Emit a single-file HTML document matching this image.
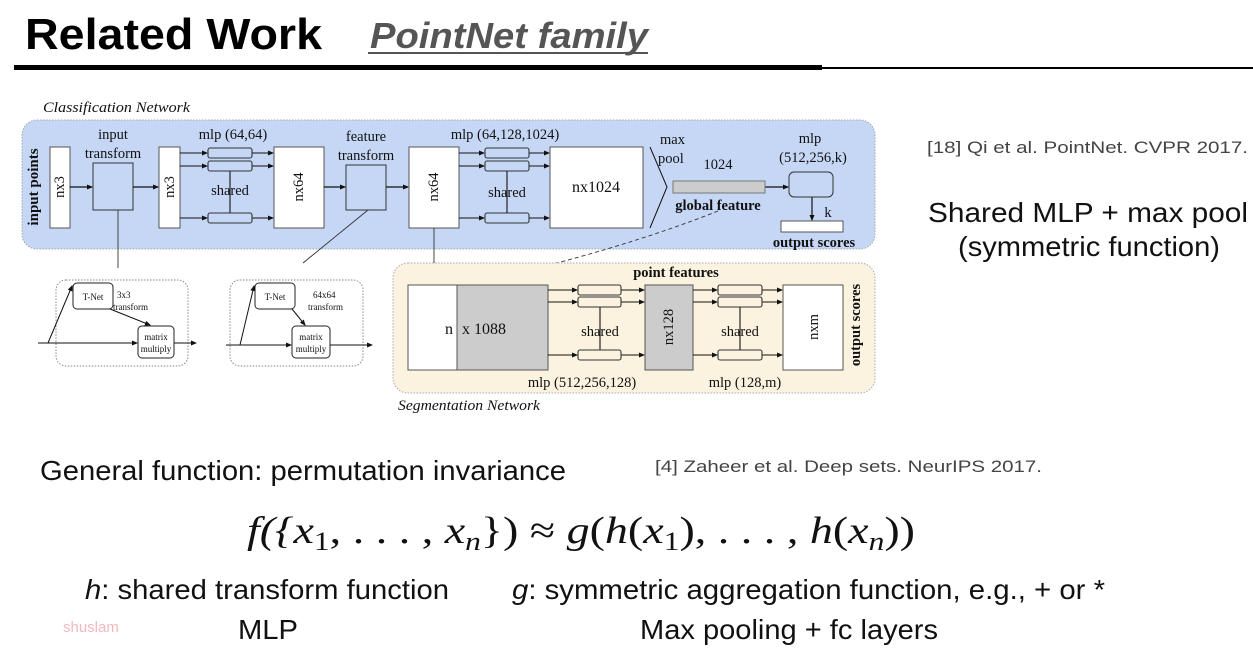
<!DOCTYPE html>
<html><head><meta charset="utf-8"><style>
html,body{margin:0;padding:0;background:#fff;}
svg{display:block;}
.s{font-family:"Liberation Serif",serif;fill:#111;}
.a{font-family:"Liberation Sans",sans-serif;}
</style></head><body>
<svg width="1253" height="670" viewBox="0 0 1253 670" xmlns="http://www.w3.org/2000/svg">
<defs>
<marker id="ar" markerWidth="6" markerHeight="6" refX="5" refY="3" orient="auto" markerUnits="userSpaceOnUse"><path d="M0,0.5 L6,3 L0,5.5 z" fill="#111"/></marker>
</defs>
<!-- title -->
<text x="25" y="49" class="a" font-size="44" font-weight="bold" fill="#000" textLength="297" lengthAdjust="spacingAndGlyphs">Related Work</text>
<text x="370" y="48" class="a" font-size="36" font-weight="bold" font-style="italic" fill="#555" textLength="278" lengthAdjust="spacingAndGlyphs">PointNet family</text>
<line x1="368" y1="53" x2="648" y2="53" stroke="#555" stroke-width="2"/>
<rect x="14" y="65" width="808" height="5" fill="#000"/>
<rect x="822" y="67" width="431" height="2" fill="#000"/>

<!-- classification -->
<text x="43" y="112" class="s" font-size="15" font-style="italic" textLength="147" lengthAdjust="spacingAndGlyphs">Classification Network</text>
<rect x="22" y="120" width="853" height="129" rx="15" fill="#c6d7f5" stroke="#9aa" stroke-width="1" stroke-dasharray="1.5,1.5"/>
<text transform="translate(38,187) rotate(-90)" class="s" font-size="15" font-weight="bold" text-anchor="middle">input points</text>
<g stroke="#555" stroke-width="1" fill="#fff">
<rect x="50" y="147" width="20" height="81"/>
<rect x="93" y="163" width="40" height="47" fill="#c6d7f5" stroke="#333"/>
<rect x="159" y="147" width="21" height="81"/>
<rect x="274" y="147" width="50" height="81"/>
<rect x="346" y="165" width="40" height="45" fill="#c6d7f5" stroke="#333"/>
<rect x="409" y="147" width="50" height="81"/>
<rect x="550" y="147" width="93" height="81"/>
</g>
<g class="s" font-size="14.5" text-anchor="middle">
<text transform="translate(64,187) rotate(-90)">nx3</text>
<text transform="translate(174,187) rotate(-90)">nx3</text>
<text transform="translate(303,187) rotate(-90)">nx64</text>
<text transform="translate(438,187) rotate(-90)">nx64</text>
<text x="596" y="192" font-size="16">nx1024</text>
<text x="113" y="139">input</text><text x="113" y="158">transform</text>
<text x="233" y="139">mlp (64,64)</text>
<text x="366" y="141">feature</text><text x="366" y="160">transform</text>
<text x="505" y="139">mlp (64,128,1024)</text>
<text x="660" y="144" text-anchor="start">max</text>
<text x="658" y="163" text-anchor="start">pool</text>
<text x="718" y="169">1024</text>
<text x="718" y="210" font-weight="bold">global feature</text>
<text x="810" y="143">mlp</text>
<text x="813" y="162">(512,256,k)</text>
<text x="828" y="217">k</text>
<text x="814" y="247" font-weight="bold">output scores</text>
</g>
<g stroke="#111" stroke-width="1.2" fill="none">
<line x1="70" y1="187" x2="92" y2="187" marker-end="url(#ar)"/>
<line x1="133" y1="187" x2="158" y2="187" marker-end="url(#ar)"/>
<line x1="324" y1="187" x2="345" y2="187" marker-end="url(#ar)"/>
<line x1="386" y1="187" x2="408" y2="187" marker-end="url(#ar)"/>
<line x1="765" y1="187" x2="788" y2="187" marker-end="url(#ar)"/>
<line x1="812" y1="197" x2="812" y2="220" marker-end="url(#ar)"/>
<path d="M650,147 L667,187 L650,228" stroke-width="1"/>
</g>
<rect x="673" y="181" width="92" height="12" fill="#ccc" stroke="#777"/>
<rect x="789" y="172" width="44" height="25" rx="5" fill="#c6d7f5" stroke="#333"/>
<rect x="781" y="221" width="62" height="11" fill="#fff" stroke="#555"/>
<!-- mlp groups -->
<g stroke="#111" stroke-width="1.1" fill="none">
<line x1="180" y1="153" x2="207" y2="153" marker-end="url(#ar)"/>
<line x1="180" y1="166" x2="207" y2="166" marker-end="url(#ar)"/>
<line x1="180" y1="218" x2="207" y2="218" marker-end="url(#ar)"/>
<line x1="252" y1="153" x2="273" y2="153" marker-end="url(#ar)"/>
<line x1="252" y1="166" x2="273" y2="166" marker-end="url(#ar)"/>
<line x1="252" y1="218" x2="273" y2="218" marker-end="url(#ar)"/>
<line x1="230" y1="171" x2="230" y2="213"/>
<rect x="208" y="148" width="44" height="10" rx="2" fill="#c6d7f5" stroke="#333"/>
<rect x="208" y="161" width="44" height="10" rx="2" fill="#c6d7f5" stroke="#333"/>
<rect x="208" y="213" width="44" height="10" rx="2" fill="#c6d7f5" stroke="#333"/>
</g>
<g stroke="#111" stroke-width="1.1" fill="none">
<line x1="459" y1="153" x2="484" y2="153" marker-end="url(#ar)"/>
<line x1="459" y1="166" x2="484" y2="166" marker-end="url(#ar)"/>
<line x1="459" y1="218" x2="484" y2="218" marker-end="url(#ar)"/>
<line x1="529" y1="153" x2="549" y2="153" marker-end="url(#ar)"/>
<line x1="529" y1="166" x2="549" y2="166" marker-end="url(#ar)"/>
<line x1="529" y1="218" x2="549" y2="218" marker-end="url(#ar)"/>
<line x1="507" y1="171" x2="507" y2="213"/>
<rect x="485" y="148" width="44" height="10" rx="2" fill="#c6d7f5" stroke="#333"/>
<rect x="485" y="161" width="44" height="10" rx="2" fill="#c6d7f5" stroke="#333"/>
<rect x="485" y="213" width="44" height="10" rx="2" fill="#c6d7f5" stroke="#333"/>
</g>
<g class="s" font-size="14.5" text-anchor="middle"><text x="230" y="195">shared</text><text x="507" y="197">shared</text></g>

<!-- connectors -->
<g stroke="#333" stroke-width="0.9" fill="none">
<line x1="118" y1="210" x2="118" y2="268"/>
<line x1="368" y1="210" x2="303" y2="263"/>
<line x1="434" y1="228" x2="434" y2="275" marker-end="url(#ar)"/>
<path d="M718,211 Q620,250 476,283" stroke-dasharray="4,3" marker-end="url(#ar)"/>
</g>

<!-- T-nets -->
<g stroke="#888" stroke-width="1" fill="none" stroke-dasharray="1.5,1.5">
<rect x="56" y="280" width="132" height="86" rx="10"/>
<rect x="230" y="280" width="133" height="86" rx="10"/>
</g>
<g stroke="#222" stroke-width="1" fill="#fff">
<rect x="73" y="283" width="40" height="26" rx="4"/>
<rect x="138" y="326" width="36" height="32" rx="4"/>
<rect x="255" y="283" width="40" height="26" rx="4"/>
<rect x="292" y="326" width="38" height="32" rx="4"/>
</g>
<g stroke="#111" stroke-width="1" fill="none">
<line x1="38" y1="343" x2="137" y2="343" marker-end="url(#ar)"/>
<line x1="174" y1="343" x2="196" y2="343" marker-end="url(#ar)"/>
<line x1="48" y1="343" x2="72" y2="286" marker-end="url(#ar)"/>
<line x1="110" y1="309" x2="150" y2="325" marker-end="url(#ar)"/>
<line x1="226" y1="345" x2="291" y2="345" marker-end="url(#ar)"/>
<line x1="330" y1="345" x2="372" y2="345" marker-end="url(#ar)"/>
<line x1="240" y1="345" x2="254" y2="286" marker-end="url(#ar)"/>
<line x1="292" y1="309" x2="305" y2="325" marker-end="url(#ar)"/>
</g>
<g class="s" font-size="9" text-anchor="middle">
<text x="93" y="300">T-Net</text><text x="156" y="340">matrix</text><text x="156" y="352">multiply</text>
<text x="275" y="300">T-Net</text><text x="311" y="340">matrix</text><text x="311" y="352">multiply</text>
<text x="117" y="298" text-anchor="start">3x3</text><text x="113" y="310" text-anchor="start">transform</text>
<text x="313" y="298" text-anchor="start">64x64</text><text x="308" y="310" text-anchor="start">transform</text>
</g>

<!-- segmentation -->
<rect x="393" y="263" width="482" height="130" rx="15" fill="#fbf3e0" stroke="#aaa" stroke-dasharray="1.5,1.5"/>
<g stroke="#555" stroke-width="1">
<rect x="408" y="285" width="49" height="85" fill="#fff"/>
<rect x="457" y="285" width="91" height="85" fill="#ccc"/>
<rect x="645" y="285" width="48" height="85" fill="#ccc"/>
<rect x="783" y="285" width="60" height="85" fill="#fff"/>
</g>
<g stroke="#111" stroke-width="1.1" fill="none">
<line x1="548" y1="290" x2="577" y2="290" marker-end="url(#ar)"/>
<line x1="548" y1="302" x2="577" y2="302" marker-end="url(#ar)"/>
<line x1="548" y1="355" x2="577" y2="355" marker-end="url(#ar)"/>
<line x1="621" y1="290" x2="644" y2="290" marker-end="url(#ar)"/>
<line x1="621" y1="302" x2="644" y2="302" marker-end="url(#ar)"/>
<line x1="621" y1="355" x2="644" y2="355" marker-end="url(#ar)"/>
<line x1="600" y1="307" x2="600" y2="350"/>
<line x1="693" y1="290" x2="717" y2="290" marker-end="url(#ar)"/>
<line x1="693" y1="302" x2="717" y2="302" marker-end="url(#ar)"/>
<line x1="693" y1="355" x2="717" y2="355" marker-end="url(#ar)"/>
<line x1="762" y1="290" x2="782" y2="290" marker-end="url(#ar)"/>
<line x1="762" y1="302" x2="782" y2="302" marker-end="url(#ar)"/>
<line x1="762" y1="355" x2="782" y2="355" marker-end="url(#ar)"/>
<line x1="740" y1="307" x2="740" y2="350"/>
<g fill="#fbf3e0" stroke="#333">
<rect x="578" y="285" width="43" height="10" rx="2"/><rect x="578" y="297" width="43" height="10" rx="2"/><rect x="578" y="350" width="43" height="10" rx="2"/>
<rect x="718" y="285" width="44" height="10" rx="2"/><rect x="718" y="297" width="44" height="10" rx="2"/><rect x="718" y="350" width="44" height="10" rx="2"/>
</g>
</g>
<g class="s" font-size="14.5" text-anchor="middle">
<text x="676" y="277" font-weight="bold">point features</text>
<text x="449" y="334" font-size="16">n</text>
<text x="462" y="334" font-size="16" text-anchor="start">x 1088</text>
<text x="600" y="336">shared</text>
<text x="740" y="336">shared</text>
<text transform="translate(673,327) rotate(-90)">nx128</text>
<text transform="translate(818,327) rotate(-90)">nxm</text>
<text transform="translate(860,325) rotate(-90)" font-weight="bold">output scores</text>
<text x="582" y="387">mlp (512,256,128)</text>
<text x="745" y="387">mlp (128,m)</text>
<text x="398" y="410" font-style="italic" text-anchor="start" textLength="142" lengthAdjust="spacingAndGlyphs">Segmentation Network</text>
</g>

<!-- right text -->
<text x="927" y="153" class="a" font-size="17" fill="#444" textLength="321" lengthAdjust="spacingAndGlyphs">[18] Qi et al. PointNet. CVPR 2017.</text>
<text x="928" y="222" class="a" font-size="28" fill="#111" textLength="320" lengthAdjust="spacingAndGlyphs">Shared MLP  + max pool</text>
<text x="958" y="256" class="a" font-size="28" fill="#111" textLength="262" lengthAdjust="spacingAndGlyphs">(symmetric function)</text>

<!-- bottom -->
<text x="40" y="480" class="a" font-size="28" fill="#111" textLength="526" lengthAdjust="spacingAndGlyphs">General function: permutation invariance</text>
<text x="655" y="472" class="a" font-size="17" fill="#444" textLength="387" lengthAdjust="spacingAndGlyphs">[4] Zaheer et al. Deep sets. NeurIPS 2017.</text>
<text x="247" y="543" class="s" font-size="38" font-style="italic" textLength="668" lengthAdjust="spacingAndGlyphs">f({x<tspan font-size="26" font-style="normal" dy="7">1</tspan><tspan dy="-7" font-style="normal">, . . . , </tspan>x<tspan font-size="26" dy="7">n</tspan><tspan dy="-7" font-style="normal">}) ≈ </tspan>g<tspan font-style="normal">(</tspan>h<tspan font-style="normal">(</tspan>x<tspan font-size="26" font-style="normal" dy="7">1</tspan><tspan dy="-7" font-style="normal">), . . . , </tspan>h<tspan font-style="normal">(</tspan>x<tspan font-size="26" dy="7">n</tspan><tspan dy="-7" font-style="normal">))</tspan></text>
<text x="85" y="599" class="a" font-size="28" fill="#111" textLength="364" lengthAdjust="spacingAndGlyphs"><tspan font-style="italic">h</tspan>: shared transform function</text>
<text x="238" y="639" class="a" font-size="28" fill="#111" textLength="60" lengthAdjust="spacingAndGlyphs">MLP</text>
<text x="63" y="632" class="a" font-size="15" fill="#f2b8c0">shuslam</text>
<text x="512" y="599" class="a" font-size="28" fill="#111" textLength="593" lengthAdjust="spacingAndGlyphs"><tspan font-style="italic">g</tspan>: symmetric aggregation function, e.g., + or *</text>
<text x="640" y="639" class="a" font-size="28" fill="#111" textLength="298" lengthAdjust="spacingAndGlyphs">Max pooling + fc layers</text>
</svg>
</body></html>
